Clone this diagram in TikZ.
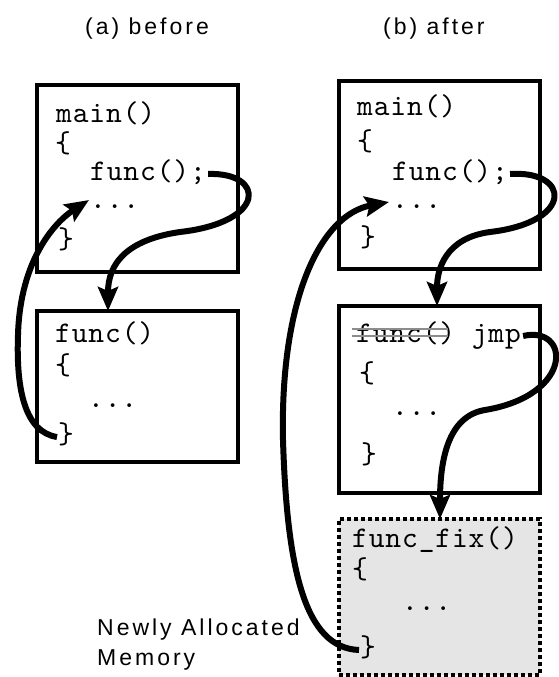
\documentclass[tikz,border=0pt]{standalone}
\usepackage{fontspec}
\usetikzlibrary{arrows.meta,calc}
\newfontfamily\labelfont[LetterSpace=13]{Liberation Sans}
\newfontfamily\codefont[LetterSpace=3]{lmmono10-regular.otf}
\definecolor{newmem}{HTML}{E5E5E5}
\tikzset{
  box/.style={draw, line width=3.5pt, minimum width=201pt, inner sep=0pt, outer sep=0pt},
  newbox/.style={box, fill=newmem, line width=4pt, dash pattern=on 4pt off 3pt},
  code/.style={font=\codefont\fontsize{30}{30}\selectfont, anchor=base west, inner sep=0pt},
  lab/.style={font=\labelfont\fontsize{23}{27}\selectfont, anchor=base west, inner sep=0pt},
  flow/.style={line width=6pt, -{Stealth[length=24pt,width=20pt,inset=4pt]}},
  strike/.style={draw=black!45, line width=1.4pt}
}
\begin{document}
\begin{tikzpicture}[x=1pt,y=-1pt]
\useasboundingbox (0,0) rectangle (558,677);
% titles
\node[lab] (ta) at (85,35) {(a) before};
\node[lab] (tb) at (383,35) {(b) after};
% boxes
\node[box, minimum height=187pt] (A1) at (137.5,178.5) {};
\node[box, minimum height=151pt] (A2) at (137.5,386.5) {};
\node[box, minimum height=188pt] (B1) at (439.5,175) {};
\node[box, minimum height=187pt] (B2) at (439.5,399.5) {};
\node[newbox, minimum height=156pt] (B3) at (439.5,597) {};
% (a) main
\node[code] (a1main) at (56,122) {main()};
\node[code] (a1open) at (55,152) {\{};
\node[code] (a1call) at (90,180) {func();};
\node[code] (a1dots) at (90,208) {...};
\node[code] (a1close) at (58,248) {\}};
% (a) func
\node[code] (a2head) at (55,342) {func()};
\node[code] (a2open) at (55,374) {\{};
\node[code] (a2dots) at (88,407) {...};
\node[code] (a2close) at (58,443) {\}};
% (b) main
\node[code] (b1main) at (357,115) {main()};
\node[code] (b1open) at (357,150) {\{};
\node[code] (b1call) at (392,180) {func();};
\node[code] (b1dots) at (392,208) {...};
\node[code] (b1close) at (360,246) {\}};
% (b) func patched
\node[code] (b2head) at (356,342) {func() jmp};
\node[code] (b2open) at (359,382) {\{};
\node[code] (b2dots) at (392,415) {...};
\node[code] (b2close) at (361,463) {\}};
\draw[strike] ($(b2head.base west)+(-4,-13)$) -- ($(b2head.base west)+(92,-13)$);
\draw[strike] ($(b2head.base west)+(-4,-6)$) -- ($(b2head.base west)+(92,-6)$);
% (b) func_fix
\node[code] (b3head) at (352,547) {func\_fix()};
\node[code] (b3open) at (352,578) {\{};
\node[code] (b3dots) at (402,610) {...};
\node[code] (b3close) at (360,656) {\}};
% label
\node[lab] (nl1) at (97,635) {Newly Allocated};
\node[lab] (nl2) at (97,665) {Memory};
% connectors
\draw[flow] ($(a1call.base east)+(2,-6)$) .. controls (265,172) and (268,222) .. (180,232)
   .. controls (125,240) and (108,265) .. ($(A2.north west)+(71,0)$);
\draw[flow] ($(a2close.base west)+(-1,-6)$) .. controls (25,432) and (16,390) .. (18,335)
   .. controls (20,260) and (55,222) .. ($(a1dots.base west)+(-1,-8)$);
\draw[flow] ($(b1call.base east)+(2,-6)$) .. controls (570,170) and (575,222) .. (490,232)
   .. controls (445,238) and (437,270) .. ($(B2.north west)+(98,0)$);
\draw[flow] ($(b2head.base east)+(2,-6)$) .. controls (570,325) and (575,395) .. (485,410)
   .. controls (448,416) and (440,460) .. ($(B3.north west)+(101,0)$);
\draw[flow] ($(b3close.base west)+(-1,-6)$) .. controls (305,648) and (287,570) .. (283,440)
   .. controls (280,300) and (320,215) .. ($(b1dots.base west)+(-3,-6)$);
\end{tikzpicture}
\end{document}
